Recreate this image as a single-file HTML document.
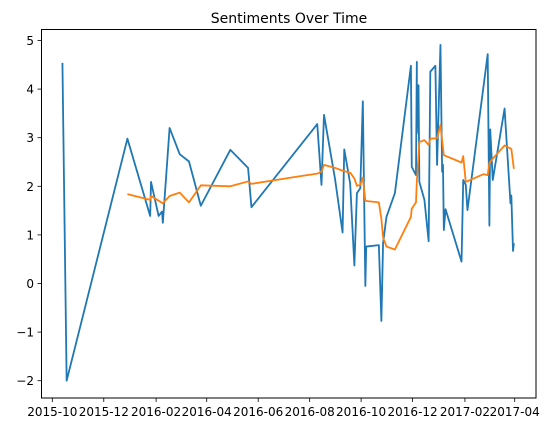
<!DOCTYPE html>
<html><head><meta charset="utf-8">
<style>
html,body{margin:0;padding:0;background:#fff;}
svg{display:block;font-family:"DejaVu Sans","Liberation Sans",sans-serif;}
</style></head>
<body>
<svg id="chart" width="554" height="432" xmlns="http://www.w3.org/2000/svg">
<rect width="554" height="432" fill="#fff"/>
<text x="289" y="23" font-size="14" text-anchor="middle" fill="#000">Sentiments Over Time</text>
<g id="plot"></g>
<rect x="41.5" y="29.5" width="494.5" height="368.5" fill="none" stroke="#000" stroke-width="1"/>
</svg>
<script>
// days since 2015-10-01
const rawDays = [12,17,89,116,117,126,130,131,139,151,162,176,211,232,236,314,319,322,335,344,346,353,358,361,365,368,371,372,387,390,392,396,406,425,426,431,432,432,434,435,441,446,448,454,456,460,462,463,464,466,485,487,490,492,516,518,519,522,536,543,544,546,547];
const rawValues = [4.54,-2.0,2.98,1.39,2.09,1.39,1.48,1.25,3.2,2.66,2.51,1.6,2.75,2.38,1.57,3.28,2.03,3.47,2.16,1.05,2.76,2.06,0.37,1.86,1.96,3.75,-0.05,0.76,0.79,-0.77,0.83,1.37,1.86,4.48,2.4,2.23,4.56,3.09,4.08,2.09,1.72,0.87,4.36,4.48,2.44,4.91,2.3,2.44,1.1,1.53,0.45,2.13,2.03,1.51,4.72,1.19,3.17,2.13,3.6,1.65,1.81,0.67,0.83];
const avgDays = [89,116,117,131,139,151,162,176,211,232,236,294,314,319,322,335,344,353,358,361,365,368,371,387,390,392,396,406,425,426,431,432,435,441,446,448,456,460,464,485,487,490,511,516,518,522,536,544,547];
const avgValues = [1.84,1.72,1.8,1.65,1.8,1.87,1.67,2.02,2.0,2.1,2.05,2.21,2.26,2.3,2.44,2.38,2.32,2.28,2.16,2.01,2.03,2.18,1.7,1.67,1.33,0.95,0.76,0.7,1.37,1.54,1.67,2.09,2.91,2.95,2.85,2.98,2.99,3.26,2.64,2.49,2.62,2.09,2.25,2.23,2.48,2.57,2.84,2.77,2.36];
const xTickDays = [0,61,123,183,244,305,366,427,489,548];
const xTickLabels = ["2015-10","2015-12","2016-02","2016-04","2016-06","2016-08","2016-10","2016-12","2017-02","2017-04"];
const yTicks = [-2,-1,0,1,2,3,4,5];

const NS = "http://www.w3.org/2000/svg";
const xs = d => 52.3 + d * 0.8438;
const ys = v => 283.5 - v * 48.6;
const g = document.getElementById('plot');
function mk(tag, attrs){const e=document.createElementNS(NS,tag);for(const k in attrs)e.setAttribute(k,attrs[k]);g.appendChild(e);return e;}

xTickDays.forEach((d,i)=>{
  const t = mk('line',{x1:xs(d),x2:xs(d),y1:398,y2:402,stroke:'#000','stroke-width':0.8});
  
  
  const l = mk('text',{x:xs(d),y:416,'font-size':12,'text-anchor':'middle',fill:'#000'});
  l.textContent = xTickLabels[i];
  
  
});
yTicks.forEach(v=>{
  const t = mk('line',{x1:37.5,x2:41.5,y1:ys(v),y2:ys(v),stroke:'#000','stroke-width':0.8});
  
  
  const l = mk('text',{x:34,y:ys(v)+4.5,'font-size':12,'text-anchor':'end',fill:'#000'});
  l.textContent = v < 0 ? '\u2212' + Math.abs(v) : String(v);
  
  
});

const p1 = mk('polyline',{points:rawDays.map((d,i)=>xs(d)+','+ys(rawValues[i])).join(' '),fill:'none',stroke:'#1f77b4','stroke-width':1.8,'stroke-linejoin':'round'});


const p2 = mk('polyline',{points:avgDays.map((d,i)=>xs(d)+','+ys(avgValues[i])).join(' '),fill:'none',stroke:'#ff7f0e','stroke-width':1.8,'stroke-linejoin':'round'});


</script>
</body></html>
